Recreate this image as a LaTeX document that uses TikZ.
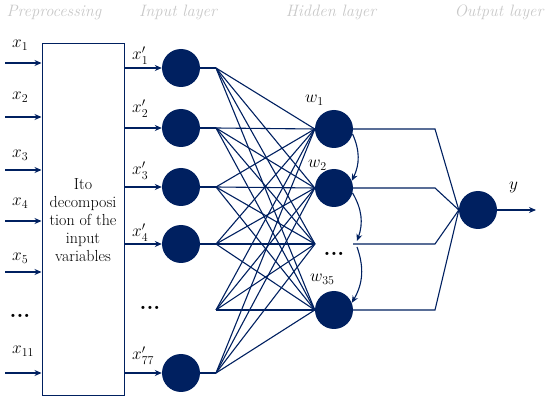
\documentclass[tikz,border=0pt]{standalone}
\usetikzlibrary{arrows.meta}
\definecolor{navy}{RGB}{0,32,96}
\definecolor{ttlgray}{RGB}{200,200,200}
\tikzset{
 neuron/.style={circle,fill=navy,draw=none,minimum size=38pt,inner sep=0pt},
 conn/.style={draw=navy,line width=1.1pt},
 arr/.style={conn,-{Stealth[length=7pt,width=6pt]}},
 ttl/.style={font=\fontsize{16.5}{18}\selectfont\itshape,text=ttlgray,anchor=base,inner sep=0pt},
 lab/.style={font=\fontsize{18}{20}\selectfont,anchor=base west,inner sep=0pt},
 dotsnode/.style={font=\fontsize{22}{22}\selectfont\bfseries,anchor=base,inner sep=0pt},
}
\begin{document}
\begin{tikzpicture}[x=1pt,y=-1pt]
\useasboundingbox (0,0) rectangle (550,401);
% titles
\node[ttl] (t1) at (54,17) {Preprocessing};
\node[ttl] (t2) at (178,17) {Input layer};
\node[ttl] (t3) at (331,17) {Hidden layer};
\node[ttl] (t4) at (499,17) {Output layer};
% preprocessing box
\node[draw=navy,line width=1pt,minimum width=82pt,minimum height=352pt,inner sep=0pt,
      align=center,font=\fontsize{16}{18}\selectfont] (box) at (83,220)
      {Ito\\decomposi\\tion of the\\input\\variables};
% input arrows
\foreach \n/\y in {1/63,2/117,3/170,4/221,5/272,6/373}{
  \coordinate (s\n) at (5,\y);
  \draw[arr] (s\n) -- (box.west |- s\n);
}
\node[lab] (lx1) at (12,48) {$x_{1}$};
\node[lab] (lx2) at (12,100) {$x_{2}$};
\node[lab] (lx3) at (12,158) {$x_{3}$};
\node[lab] (lx4) at (12,206) {$x_{4}$};
\node[lab] (lx5) at (12,261) {$x_{5}$};
\node[dotsnode] (ld) at (20,318) {...};
\node[lab] (lx11) at (12,354) {$x_{11}$};
% input layer
\node[neuron] (i1) at (181,68) {};
\node[neuron] (i2) at (181,128) {};
\node[neuron] (i3) at (181,187) {};
\node[neuron] (i4) at (181,244) {};
\node[neuron] (i5) at (181,373) {};
\foreach \n in {i1,i2,i3,i4,i5}{ \draw[arr] (box.east |- \n) -- (\n); }
\node[lab] (lp1) at (132,60) {$x_{1}^{\prime}$};
\node[lab] (lp2) at (132,113) {$x_{2}^{\prime}$};
\node[lab] (lp3) at (132,175) {$x_{3}^{\prime}$};
\node[lab] (lp4) at (132,237) {$x_{4}^{\prime}$};
\node[lab] (lp77) at (132,360) {$x_{77}^{\prime}$};
\node[dotsnode] (id) at (150,310) {...};
% fan points
\coordinate (f1) at (216,68);
\coordinate (f2) at (216,128);
\coordinate (f3) at (216,187);
\coordinate (f4) at (216,244);
\coordinate (f5) at (216,310);
\coordinate (f6) at (216,373);
\draw[conn] (i1.east) -- (f1);
\draw[conn] (i2.east) -- (f2);
\draw[conn] (i3.east) -- (f3);
\draw[conn] (i4.east) -- (f4);
\draw[conn] (i5.east) -- (f6);
% hidden layer
\node[neuron] (h1) at (334,129) {};
\node[neuron] (h2) at (334,188) {};
\coordinate (h3) at (315,244);
\coordinate (h3r) at (353,244);
\node[neuron] (h4) at (334,310) {};
\foreach \f in {f1,f2,f3,f4,f5,f6}{
  \foreach \t in {h1.west,h2.west,h3,h4.west}{
    \draw[conn] (\f) -- (\t);
  }
}
\node[lab] (lw1) at (305,103) {$w_{1}$};
\node[lab] (lw2) at (308,168) {$w_{2}$};
\node[lab] (lw35) at (310,282) {$w_{35}$};
\node[dotsnode] (hd) at (334,256) {...};
% curved arrows
\coordinate (a3) at (357,241);
\coordinate (b3) at (357,247);
\draw[arr] (h1.-15) to[bend left=25] (h2.22);
\draw[arr] (h2.-15) to[bend left=25] (a3);
\draw[arr] (b3) to[bend left=25] (h4.22);
% output
\node[neuron] (o) at (478,210) {};
\coordinate (r1) at (435,129);
\coordinate (r2) at (435,188);
\coordinate (r3) at (435,244);
\coordinate (r4) at (435,310);
\draw[conn] (h1.east) -- (r1) -- (o.west);
\draw[conn] (h2.east) -- (r2) -- (o.west);
\draw[conn] (h3r) -- (r3) -- (o.west);
\draw[conn] (h4.east) -- (r4) -- (o.west);
\coordinate (yend) at (536,210);
\draw[arr] (o) -- (yend);
\node[lab] (ly) at (509,190) {$y$};
\end{tikzpicture}
\end{document}
